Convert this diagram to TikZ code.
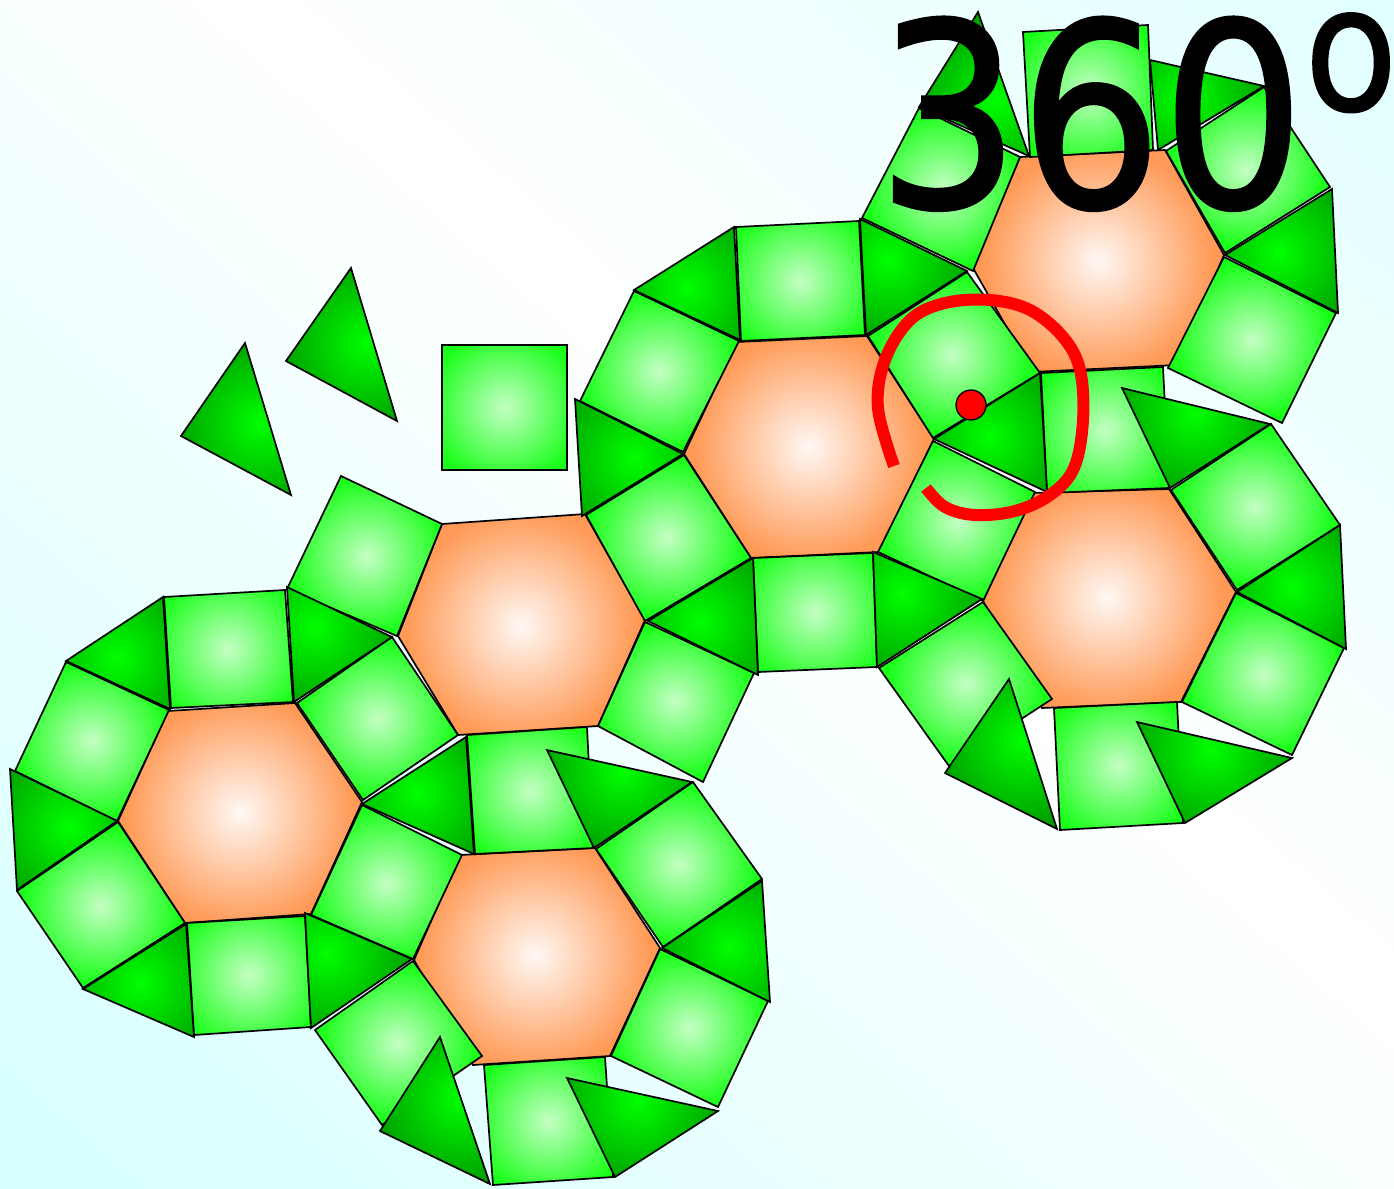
\documentclass[tikz,border=0pt]{standalone}
\usepackage{fontspec}
\newfontfamily\anglefont[FakeBold=1.2]{DejaVu Sans}
\usetikzlibrary{calc}

\definecolor{bgcyan}{HTML}{D5FFFF}
\definecolor{hexin}{HTML}{FFF8F4}
\definecolor{hexout}{HTML}{FF9955}
\definecolor{sqin}{HTML}{C4FFC4}
\definecolor{sqout}{HTML}{1AFF1A}
\definecolor{triin}{HTML}{00FF00}
\definecolor{triout}{HTML}{009000}

\tikzset{
  tile/.style={draw=black,line width=1.7pt,line join=miter},
  redpen/.style={draw=red,line width=12pt},
  anglelabel/.style={font=\anglefont\fontsize{256}{256}\selectfont,xscale=.875,
    inner sep=0pt,anchor=base west}}

\newcommand{\hextile}[6]{%
  \path #1 coordinate (p1) #2 coordinate (p2) #3 coordinate (p3)
    #4 coordinate (p4) #5 coordinate (p5) #6 coordinate (p6);
  \begin{scope}
    \clip (p1)--(p2)--(p3)--(p4)--(p5)--(p6)--cycle;
    \fill[hexout] (p1)--(p2)--(p3)--(p4)--(p5)--(p6)--cycle;
    \shade[inner color=hexin,outer color=hexout]
      (barycentric cs:p1=1,p2=1,p3=1,p4=1,p5=1,p6=1) circle (116pt);
  \end{scope}
  \draw[tile] (p1)--(p2)--(p3)--(p4)--(p5)--(p6)--cycle;}
\newcommand{\sqtile}[4]{%
  \path #1 coordinate (p1) #2 coordinate (p2) #3 coordinate (p3) #4 coordinate (p4);
  \begin{scope}
    \clip (p1)--(p2)--(p3)--(p4)--cycle;
    \fill[sqout] (p1)--(p2)--(p3)--(p4)--cycle;
    \shade[inner color=sqin,outer color=sqout]
      (barycentric cs:p1=1,p2=1,p3=1,p4=1) circle (78pt);
  \end{scope}
  \draw[tile] (p1)--(p2)--(p3)--(p4)--cycle;}
\newcommand{\tritile}[4]{%
  \path #1 coordinate (p1) #2 coordinate (p2) #3 coordinate (p3) #4 coordinate (f);
  \begin{scope}
    \clip (p1)--(p2)--(p3)--cycle;
    \fill[triout] (p1)--(p2)--(p3)--cycle;
    \shade[inner color=triin,outer color=triout] (f) circle (100pt);
  \end{scope}
  \draw[tile] (p1)--(p2)--(p3)--cycle;}

\begin{document}
\begin{tikzpicture}[x=1pt,y=-1pt]
  \path[use as bounding box] (0,0) rectangle (1394,1188);

  % Background: white band between two cyan corners
  \begin{scope}
    \clip (0,0) rectangle (1394,1188);
    \shade[top color=bgcyan,bottom color=bgcyan,middle color=white,shading angle=-41]
      (796-1055,480-1055) rectangle (796+1055,480+1055);
  \end{scope}

  % Hexagons
  \hextile{(168,711)}{(295,703)}{(362,802)}{(311,914)}{(185,923)}{(118,821)}
  \hextile{(442,524)}{(585,514)}{(645,620)}{(598,726)}{(458,735)}{(398,636)}
  \hextile{(460,855)}{(595,848)}{(660,948)}{(610,1056)}{(473,1065)}{(414,960)}
  \hextile{(737,342)}{(867,336)}{(934,439)}{(879,552)}{(751,558)}{(684,454)}
  \hextile{(1020,157)}{(1165,150)}{(1224,255)}{(1177,365)}{(1032,372)}{(973,268)}
  \hextile{(1032,493)}{(1169,489)}{(1236,592)}{(1181,702)}{(1042,708)}{(983,601)}

  % Squares
  \sqtile{(442,345)}{(567,345)}{(567,470)}{(442,470)}
  \sqtile{(164,597)}{(285,590)}{(293,702)}{(171,708)}
  \sqtile{(66,662)}{(169,710)}{(117,821)}{(15,771)}
  \sqtile{(118,822)}{(185,923)}{(83,988)}{(17,891)}
  \sqtile{(187,923)}{(305,916)}{(311,1027)}{(194,1035)}
  \sqtile{(362,805)}{(462,855)}{(413,959)}{(311,915)}
  \sqtile{(297,703)}{(392,637)}{(458,735)}{(363,800)}
  \sqtile{(341,476)}{(442,524)}{(397,636)}{(287,589)}
  \sqtile{(586,515)}{(684,455)}{(751,558)}{(645,621)}
  \sqtile{(645,622)}{(754,673)}{(703,782)}{(598,726)}
  \sqtile{(467,735)}{(587,727)}{(593,848)}{(475,854)}
  \sqtile{(596,849)}{(693,782)}{(762,879)}{(663,947)}
  \sqtile{(660,949)}{(768,1001)}{(718,1107)}{(611,1056)}
  \sqtile{(484,1065)}{(605,1057)}{(613,1177)}{(493,1185)}
  \sqtile{(413,961)}{(482,1056)}{(382,1125)}{(315,1030)}
  \sqtile{(634,291)}{(739,341)}{(683,452)}{(580,401)}
  \sqtile{(736,227)}{(859,221)}{(865,335)}{(741,341)}
  \sqtile{(868,336)}{(967,272)}{(1040,373)}{(933,438)}
  \sqtile{(1041,373)}{(1163,367)}{(1169,488)}{(1047,493)}
  \sqtile{(933,441)}{(1035,492)}{(983,601)}{(878,552)}
  \sqtile{(753,558)}{(873,553)}{(877,667)}{(758,672)}
  \sqtile{(983,602)}{(1052,699)}{(949,766)}{(879,668)}
  \sqtile{(1054,708)}{(1177,702)}{(1183,823)}{(1060,830)}
  \sqtile{(1182,702)}{(1292,755)}{(1344,648)}{(1236,593)}
  \sqtile{(1171,490)}{(1271,424)}{(1340,525)}{(1237,590)}
  \sqtile{(1224,257)}{(1336,313)}{(1282,423)}{(1168,368)}
  \sqtile{(1166,151)}{(1264,87)}{(1330,187)}{(1225,253)}
  \sqtile{(1023,32)}{(1148,25)}{(1153,150)}{(1030,157)}
  \sqtile{(919,108)}{(1020,157)}{(973,271)}{(862,218)}

  % Triangles, the last value is the bright spot
  \tritile{(245,343)}{(181,436)}{(291,495)}{(260,423)}
  \tritile{(351,268)}{(286,361)}{(397,421)}{(367,343)}
  \tritile{(66,661)}{(163,597)}{(170,709)}{(117,657)}
  \tritile{(287,587)}{(392,637)}{(294,702)}{(315,627)}
  \tritile{(10,769)}{(117,821)}{(17,890)}{(70,827)}
  \tritile{(83,989)}{(186,924)}{(194,1037)}{(140,983)}
  \tritile{(305,913)}{(412,959)}{(311,1028)}{(327,953)}
  \tritile{(466,737)}{(474,854)}{(362,804)}{(417,793)}
  \tritile{(634,290)}{(734,227)}{(740,340)}{(687,288)}
  \tritile{(860,219)}{(967,271)}{(866,335)}{(888,260)}
  \tritile{(575,399)}{(683,454)}{(582,516)}{(635,458)}
  \tritile{(648,621)}{(753,558)}{(758,675)}{(700,622)}
  \tritile{(873,552)}{(982,599)}{(877,667)}{(903,593)}
  \tritile{(934,439)}{(1040,373)}{(1047,492)}{(989,437)}
  \tritile{(1122,388)}{(1270,424)}{(1170,488)}{(1195,413)}
  \tritile{(1225,255)}{(1332,189)}{(1338,313)}{(1279,253)}
  \tritile{(978,12)}{(1029,156)}{(919,107)}{(996,100)}
  \tritile{(1150,60)}{(1264,86)}{(1158,150)}{(1185,100)}
  \tritile{(547,750)}{(692,782)}{(594,848)}{(623,770)}
  \tritile{(662,948)}{(762,881)}{(770,1002)}{(730,947)}
  \tritile{(567,1078)}{(718,1111)}{(615,1177)}{(637,1100)}
  \tritile{(440,1037)}{(490,1184)}{(380,1131)}{(460,1097)}
  \tritile{(1009,679)}{(1057,829)}{(945,773)}{(1023,740)}
  \tritile{(1137,722)}{(1292,758)}{(1185,823)}{(1211,750)}
  \tritile{(1237,592)}{(1340,525)}{(1346,649)}{(1292,587)}

  % Red angle mark
  \draw[redpen] plot[smooth,tension=.6] coordinates {(894,466) (878,408) (885,360)
    (910,320) (945,303) (990,300) (1030,310) (1063,337) (1080,370) (1083,420)
    (1074,468) (1050,495) (1015,511) (975,515) (945,507) (926,488)};
  \node[circle,draw=black,fill=red,line width=1.3pt,minimum size=30pt,inner sep=0pt]
    (vertexdot) at (971,405) {};

  \node[anglelabel] (angle) at (877,207)
    {360\raisebox{97pt}{\fontsize{173}{173}\selectfont o}\kern-14pt};
\end{tikzpicture}
\end{document}
